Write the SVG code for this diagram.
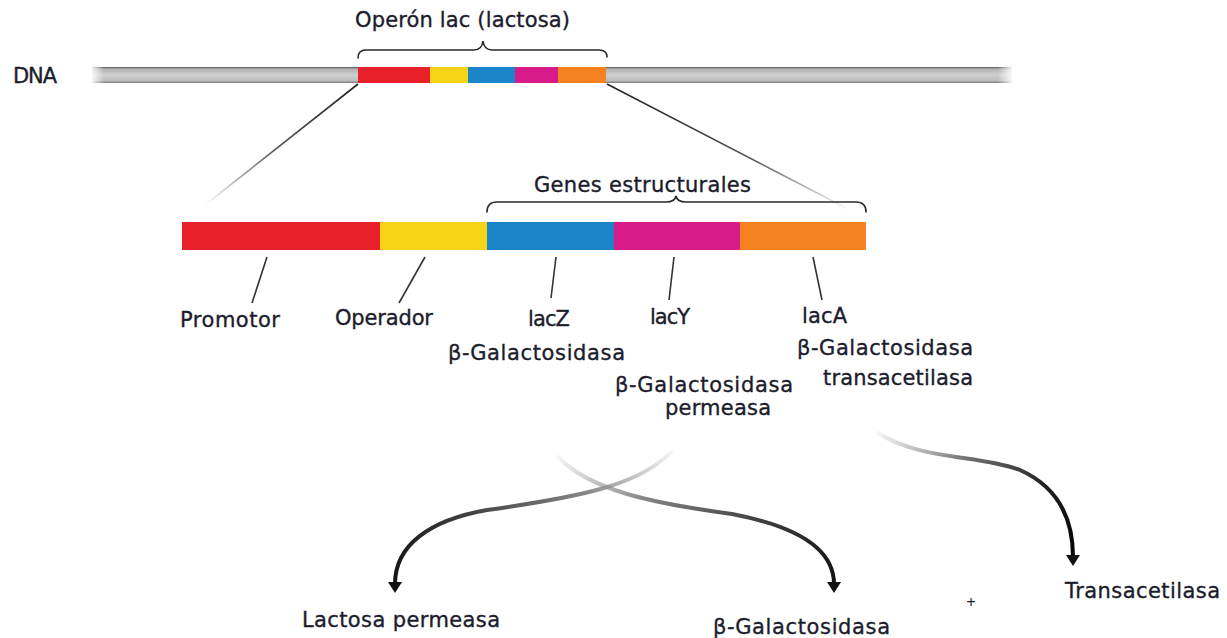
<svg xmlns="http://www.w3.org/2000/svg" width="1227" height="638" viewBox="0 0 1227 638">
<defs>
<style>
text{font-family:"DejaVu Sans","Liberation Sans",sans-serif;font-size:21px;fill:#1c1c2c;stroke:#1c1c2c;stroke-width:0.35}
.br{fill:none;stroke:#2a2a2a;stroke-width:1.6;stroke-linecap:round}
.ptr{stroke:#333;stroke-width:1.6;fill:none}
.arr{fill:none;stroke-width:4;stroke-linecap:round}
</style>
<linearGradient id="dnaV" x1="0" y1="0" x2="0" y2="1">
<stop offset="0" stop-color="#555"/>
<stop offset="0.12" stop-color="#b0b0b0"/>
<stop offset="0.5" stop-color="#cfcfcf"/>
<stop offset="0.85" stop-color="#bdbdbd"/>
<stop offset="1" stop-color="#7a7a7a"/>
</linearGradient>
<linearGradient id="fadeL" x1="0" y1="0" x2="1" y2="0">
<stop offset="0" stop-color="#fff" stop-opacity="1"/>
<stop offset="1" stop-color="#fff" stop-opacity="0"/>
</linearGradient>
<linearGradient id="fadeR" x1="0" y1="0" x2="1" y2="0">
<stop offset="0" stop-color="#fff" stop-opacity="0"/>
<stop offset="1" stop-color="#fff" stop-opacity="1"/>
</linearGradient>
<linearGradient id="gL" gradientUnits="userSpaceOnUse" x1="358" y1="84" x2="205" y2="205">
<stop offset="0" stop-color="#222"/>
<stop offset="0.55" stop-color="#555"/>
<stop offset="1" stop-color="#555" stop-opacity="0"/>
</linearGradient>
<linearGradient id="gR" gradientUnits="userSpaceOnUse" x1="607" y1="84" x2="850" y2="210">
<stop offset="0" stop-color="#222"/>
<stop offset="0.6" stop-color="#555"/>
<stop offset="1" stop-color="#555" stop-opacity="0"/>
</linearGradient>
<linearGradient id="g1" gradientUnits="userSpaceOnUse" x1="671" y1="450" x2="395" y2="595">
<stop offset="0" stop-color="#999" stop-opacity="0.1"/>
<stop offset="0.3" stop-color="#888"/>
<stop offset="0.65" stop-color="#444"/>
<stop offset="1" stop-color="#111"/>
</linearGradient>
<linearGradient id="g2" gradientUnits="userSpaceOnUse" x1="558" y1="456" x2="834" y2="595">
<stop offset="0" stop-color="#999" stop-opacity="0.1"/>
<stop offset="0.3" stop-color="#888"/>
<stop offset="0.65" stop-color="#444"/>
<stop offset="1" stop-color="#111"/>
</linearGradient>
<linearGradient id="g3" gradientUnits="userSpaceOnUse" x1="878" y1="432" x2="1073" y2="568">
<stop offset="0" stop-color="#999" stop-opacity="0.1"/>
<stop offset="0.35" stop-color="#777"/>
<stop offset="0.7" stop-color="#222"/>
<stop offset="1" stop-color="#000"/>
</linearGradient>
<marker id="ah" viewBox="0 0 11 14" refX="2" refY="7" markerWidth="11" markerHeight="14" markerUnits="userSpaceOnUse" orient="auto">
<path d="M0,0 L11,7 L0,14 Z" fill="#111"/>
</marker>
</defs>
<rect width="1227" height="638" fill="#fff"/>

<g id="dna">
<text x="13" y="83" textLength="44">DNA</text>
<rect x="92" y="67" width="920" height="16" fill="url(#dnaV)"/>
<rect x="90" y="66" width="14" height="18" fill="url(#fadeL)"/>
<rect x="998" y="66" width="16" height="18" fill="url(#fadeR)"/>
<rect x="358" y="67" width="72" height="16" fill="#e8202a"/>
<rect x="430" y="67" width="38" height="16" fill="#f5d316"/>
<rect x="468" y="67" width="47" height="16" fill="#1a85c8"/>
<rect x="515" y="67" width="43" height="16" fill="#d81b8a"/>
<rect x="558" y="67" width="48" height="16" fill="#f58220"/>
</g>

<g id="operon-label">
<text x="355" y="27" textLength="215">Operón lac (lactosa)</text>
<path class="br" d="M358,58 Q358,50 366,50 L474,50 Q482,50 483,41 Q484,50 492,50 L599,50 Q607,50 607,57"/>
</g>

<g id="operon-bar">
<rect x="182" y="222" width="198" height="28" fill="#e8202a"/>
<rect x="380" y="222" width="107" height="28" fill="#f5d316"/>
<rect x="487" y="222" width="127" height="28" fill="#1a85c8"/>
<rect x="614" y="222" width="126" height="28" fill="#d81b8a"/>
<rect x="740" y="222" width="126" height="28" fill="#f58220"/>
</g>

<g id="genes-label">
<text x="534" y="192" textLength="217">Genes estructurales</text>
<path class="br" d="M487,212 Q487,202 497,202 L666,202 Q675,202 676,196 Q677,202 686,202 L856,202 Q866,202 866,212"/>
</g>

<g id="promotor"><text x="180" y="327" textLength="100">Promotor</text></g>
<g id="operador"><text x="335" y="325" textLength="98">Operador</text></g>
<g id="lacZ">
<text x="528" y="326" textLength="42">lacZ</text>
<text x="448" y="360" textLength="177">β-Galactosidasa</text>
</g>
<g id="lacY">
<text x="650" y="324" textLength="40">lacY</text>
<text x="615" y="392" textLength="178">β-Galactosidasa</text>
<text x="665" y="415" textLength="106">permeasa</text>
</g>
<g id="lacA">
<text x="802" y="323" textLength="45">lacA</text>
<text x="797" y="355" textLength="176">β-Galactosidasa</text>
<text x="823" y="385" textLength="150">transacetilasa</text>
</g>

<g id="lactosa-permeasa"><text x="302" y="627" textLength="198">Lactosa permeasa</text></g>
<g id="b-galactosidasa"><text x="713" y="634" textLength="177">β-Galactosidasa</text></g>
<g id="plus"><text x="966" y="606" style="font-size:12px;stroke-width:0.2">+</text></g>
<g id="transacetilasa"><text x="1065" y="598" textLength="155">Transacetilasa</text></g>

<g id="connectors">
<line x1="358" y1="84" x2="205" y2="205" stroke="url(#gL)" stroke-width="1.6"/>
<line x1="607" y1="84" x2="850" y2="210" stroke="url(#gR)" stroke-width="1.6"/>
<line class="ptr" x1="267" y1="257" x2="252" y2="303"/>
<line class="ptr" x1="425" y1="257" x2="399" y2="303"/>
<line class="ptr" x1="556" y1="257" x2="551" y2="298"/>
<line class="ptr" x1="674" y1="257" x2="669" y2="300"/>
<line class="ptr" x1="813" y1="257" x2="822" y2="300"/>
<path class="arr" stroke="url(#g1)" d="M671,452 C640,485 580,497 487,510 C430,520 395,545 395,584" marker-end="url(#ah)"/>
<path class="arr" stroke="url(#g2)" d="M558,457 C590,490 650,503 732,514 C790,525 834,545 834,584" marker-end="url(#ah)"/>
<path class="arr" stroke="url(#g3)" d="M878,433 C920,460 980,455 1020,470 C1060,488 1073,520 1073,557" marker-end="url(#ah)"/>
</g>
</svg>
